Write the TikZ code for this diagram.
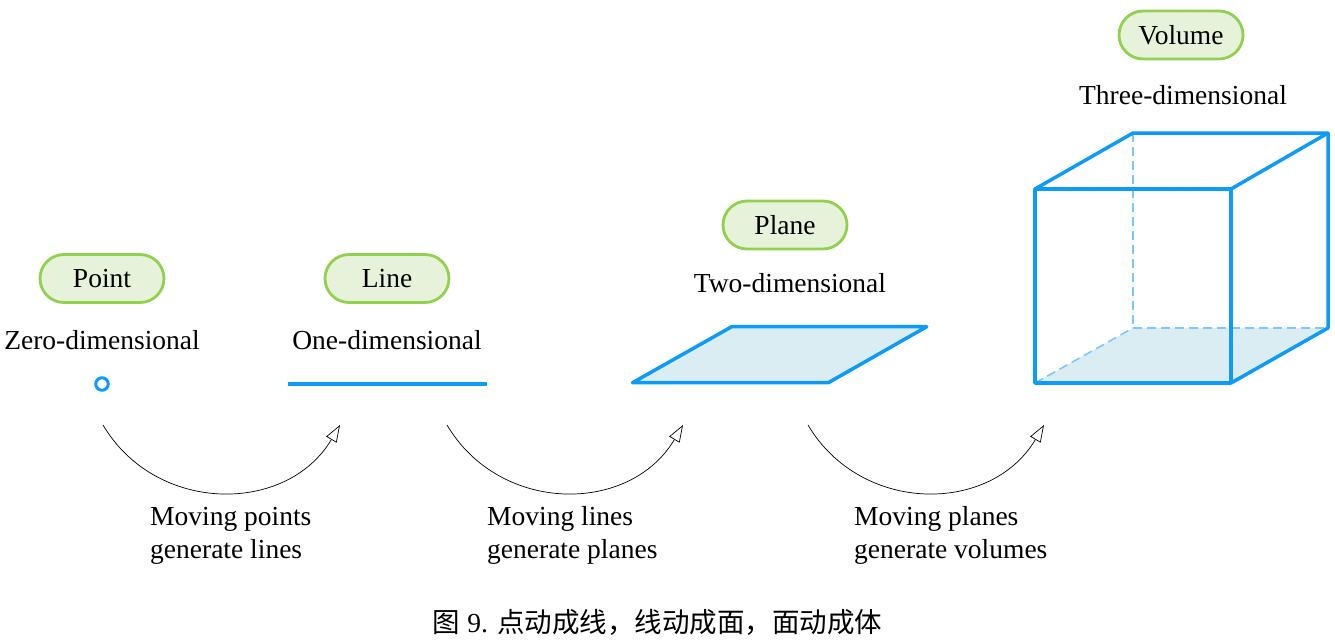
\documentclass[tikz,border=0pt]{standalone}
\usepackage{fontspec}
\setmainfont{Liberation Serif}
\newfontfamily\cjkfont{Noto Sans CJK SC}
\usetikzlibrary{arrows.meta}
\definecolor{geoblue}{HTML}{0E9BF7}
\definecolor{dashblue}{HTML}{7CC8FB}
\definecolor{planefill}{HTML}{DAEDF3}
\definecolor{pillfill}{HTML}{E6F2D9}
\definecolor{pilledge}{HTML}{92D050}
\begin{document}
\begin{tikzpicture}[x=1pt,y=-1pt,
  every node/.style={font=\fontsize{27.5}{33}\selectfont, inner sep=0pt},
  pill/.style={draw=pilledge, fill=pillfill, line width=2.8pt, rounded corners=24pt,
    minimum width=124pt, minimum height=48pt, text height=18pt, text depth=0pt},
  dimlabel/.style={anchor=base},
  movelabel/.style={anchor=base west, align=left},
  geo/.style={draw=geoblue, line width=3.5pt, line join=round},
  hidden/.style={draw=dashblue, line width=1.6pt, dash pattern=on 9pt off 5pt},
  move/.style={draw=black, line width=0.7pt, -{Triangle[open, length=17pt, width=12pt, fill=white]}}
]
\useasboundingbox (0,0) rectangle (1335,640);

% pills
\node[pill] (point) at (102,278.5) {Point};
\node[pill] (line) at (387,278.5) {Line};
\node[pill] (plane) at (785,225) {Plane};
\node[pill] (volume) at (1181,35) {Volume};

% dimension labels
\node[dimlabel] (zero) at (102,349) {Zero-dimensional};
\node[dimlabel] (one) at (387,349) {One-dimensional};
\node[dimlabel] (two) at (790,292) {Two-dimensional};
\node[dimlabel] (three) at (1183,104) {Three-dimensional};

% point
\node[circle, draw=geoblue, line width=3pt, minimum size=12.5pt] (pt) at (102,384) {};

% line
\draw[geo] (288,384) -- (487,384);

% plane
\filldraw[geo, fill=planefill] (632.5,382.7) -- (731.7,326.7) -- (926.7,326.7) -- (828.3,382.7) -- cycle;

% cube
\fill[planefill] (1035,383) -- (1231,383) -- (1328,328) -- (1133,328) -- cycle;
\draw[hidden] (1133,133) -- (1133,328);
\draw[hidden] (1133,328) -- (1328,328);
\draw[hidden] (1035,383) -- (1133,328);
\draw[geo] (1035,189) rectangle (1231,383);
\draw[geo] (1035,189) -- (1133,133) -- (1328,133) -- (1231,189);
\draw[geo] (1328,133) -- (1328,328) -- (1231,383);

% motion arrows
\coordinate (s1) at (103,425); \coordinate (e1) at (340,425);
\coordinate (s2) at (447,425); \coordinate (e2) at (683,425);
\coordinate (s3) at (808,425); \coordinate (e3) at (1044,425);
\draw[move] (s1) .. controls +(53,89.5) and +(-53,89.5) .. (e1);
\draw[move] (s2) .. controls +(53,89.5) and +(-53,89.5) .. (e2);
\draw[move] (s3) .. controls +(53,89.5) and +(-53,89.5) .. (e3);

% motion labels (base anchor = baseline of last line)
\node[movelabel] (m1) at (150,558) {Moving points\\generate lines};
\node[movelabel] (m2) at (487,558) {Moving lines\\generate planes};
\node[movelabel] (m3) at (854,558) {Moving planes\\generate volumes};

% caption
\node[anchor=base] (cap) at (657.5,632) {{\cjkfont 图} 9. {\cjkfont 点动成线，线动成面，面动成体}};
\end{tikzpicture}
\end{document}
